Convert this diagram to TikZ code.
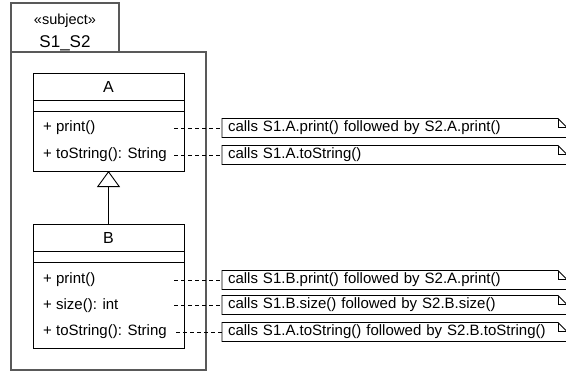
\documentclass[tikz,border=0pt]{standalone}
\usepackage{fontspec}
\setmainfont{Liberation Sans}
\usetikzlibrary{arrows.meta}
\newcommand\umlmember{\fontsize{15}{18}\selectfont}
\newcommand\umlname{\fontsize{16}{19}\selectfont}
\newcommand\umlsubj{\fontsize{17}{20}\selectfont}
\newcommand\umlstereo{\fontsize{14.5}{17}\selectfont}
\newcommand\umlnote[1]{%
  \draw[noteline] (#1.north west) -- ([xshift=-9pt]#1.north east) -- ([yshift=-9pt]#1.north east) -- (#1.south east) -- (#1.south west) -- cycle;
  \draw[noteline] ([xshift=-9pt]#1.north east) |- ([yshift=-9pt]#1.north east);}
\tikzset{
  frameline/.style={line width=1.2pt, draw=black!65},
  classbox/.style={draw, line width=1pt, minimum width=151pt, inner sep=0pt, outer sep=0pt},
  sepline/.style={line width=1pt},
  member/.style={anchor=west, inner sep=0pt, font=\umlmember},
  cname/.style={inner sep=0pt, font=\umlname},
  notebox/.style={anchor=west, text width=333pt, inner xsep=6pt, inner ysep=0pt, minimum height=19pt, outer sep=0pt, align=left, font=\umlmember},
  noteline/.style={line width=0.9pt},
  conn/.style={line width=0.9pt, dash pattern=on 4pt off 3pt},
  inherit/.style={line width=0.9pt, -{Triangle[open, width=23pt, length=16pt, fill=white]}},
}
\begin{document}
\begin{tikzpicture}[x=1pt,y=-1pt]
\useasboundingbox (0,0) rectangle (566,372);
\clip (0,0) rectangle (566,372);

% subject frame and tab
\node[draw, frameline, minimum width=108pt, minimum height=49pt, inner sep=0pt] (tab) at (65,27.5) {};
\node[inner sep=0pt, font=\umlstereo] (stereo) at (65,21) {«subject»};
\node[inner sep=0pt, font=\umlsubj] (subjname) at (65,43) {S1\_S2};
\node[draw, frameline, minimum width=195pt, minimum height=318pt, inner sep=0pt] (frame) at (108.5,211) {};

% class A
\node[classbox, minimum height=98pt] (A) at (108.5,122) {};
\node[cname] (Aname) at (108.5,87) {A};
\draw[sepline] (A.west |- 0,100) -- (A.east |- 0,100);
\draw[sepline] (A.west |- 0,111) -- (A.east |- 0,111);
\node[member] (Aprint) at (43,128) {+ print()};
\node[member] (AtoString) at (43,155) {+ toString(): String};

% class B
\node[classbox, minimum height=124pt] (B) at (108.5,286) {};
\node[cname] (Bname) at (108.5,238) {B};
\draw[sepline] (B.west |- 0,251) -- (B.east |- 0,251);
\draw[sepline] (B.west |- 0,262) -- (B.east |- 0,262);
\node[member] (Bprint) at (43,280) {+ print()};
\node[member] (Bsize) at (43,306) {+ size(): int};
\node[member] (BtoString) at (43,332) {+ toString(): String};

% generalization
\draw[inherit] (B.north) -- (A.south);

% notes
\node[notebox] (nA1) at (222,128) {calls S1.A.print() followed by S2.A.print()};
\node[notebox] (nA2) at (222,155) {calls S1.A.toString()};
\node[notebox] (nB1) at (222,280) {calls S1.B.print() followed by S2.A.print()};
\node[notebox] (nB2) at (222,305) {calls S1.B.size() followed by S2.B.size()};
\node[notebox] (nB3) at (222,332) {calls S1.A.toString() followed by S2.B.toString()};
\umlnote{nA1}
\umlnote{nA2}
\umlnote{nB1}
\umlnote{nB2}
\umlnote{nB3}

% connectors
\coordinate (cA1) at (174,128);
\coordinate (cA2) at (174,155);
\coordinate (cB1) at (174,280);
\coordinate (cB2) at (174,305);
\coordinate (cB3) at (176,332);
\draw[conn] (cA1) -- (nA1.west);
\draw[conn] (cA2) -- (nA2.west);
\draw[conn] (cB1) -- (nB1.west);
\draw[conn] (cB2) -- (nB2.west);
\draw[conn] (cB3) -- (nB3.west);
\end{tikzpicture}
\end{document}
